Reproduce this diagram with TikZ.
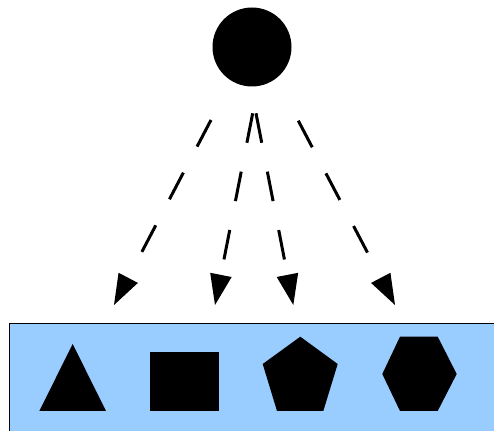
\documentclass[tikz,border=0pt]{standalone}
\usepackage{tikz}
\usetikzlibrary{arrows.meta}
\definecolor{panelblue}{HTML}{99CCFF}

\tikzset{
    ray/.style={->, line width=2.25pt, dash pattern=on 22.5pt off 22.1pt},
    figure/.style={fill=black}
}

\begin{document}
\begin{tikzpicture}[x=0.75pt, y=-0.75pt, >={Triangle[length=23pt, width=16.4pt, line width=0pt]}]
    \clip (0,0) rectangle (494,431);
    % light source and its rays
    \node[circle, fill=black, minimum size=59.25pt, inner sep=0pt] (source) at (252,47) {};
    \coordinate (rayA) at (211,120);
    \coordinate (rayB) at (252.7,113.3);
    \coordinate (rayC) at (256,113.3);
    \coordinate (rayD) at (298.3,120.7);
    \coordinate (hitA) at (114,305);
    \coordinate (hitB) at (215,305);
    \coordinate (hitC) at (293.3,305);
    \coordinate (hitD) at (395,305);
    \draw[ray] (rayA) -- (hitA);
    \draw[ray] (rayB) -- (hitB);
    \draw[ray] (rayC) -- (hitC);
    \draw[ray] (rayD) -- (hitD);
    % panel with the shapes
    \filldraw[fill=panelblue, draw=black, line width=0.75pt] (9.5,323.5) rectangle (510,445);
    \fill[figure] (39.3,411) -- (72.7,344) -- (106,411) -- cycle;
    \fill[figure] (150.3,351.7) rectangle (218.7,411);
    \fill[figure] (300.3,336.7) -- (337.7,364) -- (323.3,411) -- (277,411) -- (262.7,364) -- cycle;
    \fill[figure] (400,336.7) -- (437.7,336.7) -- (456.7,374) -- (437.7,411) -- (400,411) -- (382.3,374) -- cycle;
\end{tikzpicture}
\end{document}
